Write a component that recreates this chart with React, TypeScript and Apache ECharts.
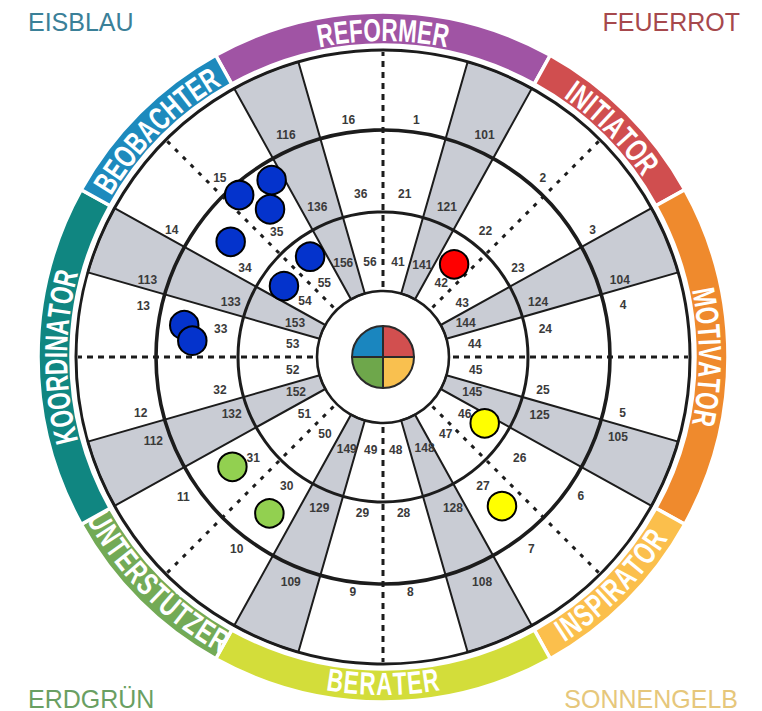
import React, { useEffect, useRef } from 'react';
import * as echarts from 'echarts';

// ---------------- data ----------------
const bandNames = ['REFORMER', 'INITIATOR', 'MOTIVATOR', 'INSPIRATOR', 'BERATER', 'UNTERSTÜTZER', 'KOORDINATOR', 'BEOBACHTER'];
const bandCenters = [0, 45, 90, 135, 180, 225, 270, 315];
const bandOutward = [true, true, true, false, false, false, true, true];
const bandColors = ['#a054a4', '#d04e4f', '#ef8a2d', '#fbbf4c', '#d3dd3a', '#73aa56', '#108681', '#1d8abd'];

const grayCenters = [22.5, 67.5, 112.5, 157.5, 202.5, 247.5, 292.5, 337.5];
const dashAngles = [0, 45, 90, 135, 180, 225, 270, 315];
const ringRadii = [66, 145, 227, 307];
const ringWidths = [2.6, 3, 3.6, 3];

const quadrantNames = ['Rot', 'Gelb', 'Grün', 'Blau'];
const quadrantColors = ['#d24f4f', '#f9c04f', '#6ea74b', '#1a86bf'];

const cornerNames = ['EISBLAU', 'FEUERROT', 'ERDGRÜN', 'SONNENGELB'];
const cornerColors = ['#3a8098', '#a6484c', '#6a9f62', '#e6c77b'];

const labelTexts = [
  '1', '101', '2', '3', '104', '4', '5', '105', '6', '7', '108', '8', '9', '109', '10', '11', '112', '12', '13', '113', '14', '15', '116', '16',
  '21', '121', '22', '23', '124', '24', '25', '125', '26', '27', '128', '28', '29', '129', '30', '31', '132', '32', '33', '133', '34', '35', '136', '36',
  '41', '141', '42', '43', '144', '44', '45', '145', '46', '47', '148', '48', '49', '149', '50', '51', '152', '52', '53', '153', '54', '55', '156', '56',
];

// dots: [radius, angle]
const blueDots = [[209, 327.8], [216.6, 318.4], [186, 322.6], [191, 307.1], [124, 324], [121.8, 305.6], [201.3, 279.1], [191.4, 274.9]];
const redDots = [[116.8, 37.5]];
const yellowDots = [[121.4, 123.1], [190.7, 141.4]];
const greenDots = [[186.4, 233.9], [193.3, 216]];

// ---------------- layout ----------------
const LABEL_RADIUS = [
  239, 244, 240, 245, 249, 245.6, 246, 248, 242, 242.6, 245.6, 237, 237.3, 243, 241.4, 243.7, 244.6, 248.8, 245, 248, 246.5, 242, 242.3, 239.5,
  164, 163, 162, 161.5, 164.6, 164.7, 163.4, 167, 169.8, 163, 166.7, 157.7, 157.7, 164.2, 160.7, 164.2, 161.8, 166.3, 164.6, 162, 164, 164.3, 164, 164.5,
  96.5, 100, 94.4, 96.1, 89.5, 92.6, 93.6, 96, 99.8, 99.3, 100.4, 93.9, 93.8, 98.9, 96.4, 97.3, 93.9, 91.2, 91.2, 94.2, 96, 94.2, 101.7, 96.2,
];
const LABEL_ANGLE = [
  8, 24.6, 41.8, 58.8, 72, 77.8, 103.2, 108.7, 125.2, 142.3, 156.2, 173.4, 187.3, 202.3, 217.3, 235, 249.9, 256.9, 282, 288.2, 301, 317.6, 336.4, 351.7,
  7.6, 23.1, 39.2, 56.7, 70.4, 80.3, 101.7, 110.3, 126.4, 142.2, 155.2, 172.5, 187.5, 202.8, 216.8, 232.2, 249.3, 258.6, 279.7, 290, 302.7, 319.7, 336.4, 352.2,
  8.9, 23.1, 38.1, 55.6, 67.5, 81.9, 98, 111.6, 125, 140.8, 155.5, 172.2, 187.5, 201.5, 217, 233.9, 247.9, 261.8, 278.2, 291, 305.7, 321.5, 337, 352.2,
];

const CX = 383;
const CY = 357;
const R_MAX = 346;
const BAND_IN = 312;
const BAND_OUT = 345;
const BAND_TEXT_R = 327;
const GRAY_W = 13;
const GRAY_FILL = '#c9ccd4';
const LINE = '#1c1c1c';
const BAND_FONT_SIZE = 32;
const BAND_SCALE_X = 0.7;
const BAND_FONT = '"Liberation Sans", Arial, sans-serif';

let measureCtx: CanvasRenderingContext2D | null = null;
function measure(ch: string): number {
  if (!measureCtx) {
    const cv = document.createElement('canvas');
    measureCtx = cv.getContext('2d');
  }
  if (!measureCtx) return BAND_FONT_SIZE * 0.65;
  measureCtx.font = `bold ${BAND_FONT_SIZE}px ${BAND_FONT}`;
  return measureCtx.measureText(ch).width;
}

function norm(a: number) {
  return ((a % 360) + 360) % 360;
}

function geom(api: any) {
  const c = api.coord([0, 0]);
  const rad = (r: number) => {
    const p = api.coord([r, 0]);
    return Math.hypot(p[0] - c[0], p[1] - c[1]);
  };
  const ang = (a: number) => {
    const p = api.coord([100, norm(a)]);
    return Math.atan2(p[1] - c[1], p[0] - c[0]);
  };
  const pt = (r: number, a: number) => api.coord([r, norm(a)]);
  return { c, rad, ang, pt };
}

function sector(g: any, r0: number, r1: number, a0: number, a1: number, style: any) {
  const s = g.ang(a0);
  let e = g.ang(a1);
  while (e <= s) e += Math.PI * 2;
  return {
    type: 'sector',
    shape: { cx: g.c[0], cy: g.c[1], r0: g.rad(r0), r: g.rad(r1), startAngle: s, endAngle: e, clockwise: true },
    style,
  };
}

function dotSeries(name: string, data: number[][], color: string) {
  return {
    name,
    type: 'scatter',
    coordinateSystem: 'polar',
    data,
    symbol: 'circle',
    symbolSize: 28.5,
    z: 10,
    silent: true,
    itemStyle: { color, borderColor: '#000', borderWidth: 2, opacity: 1 },
  };
}

export default function App() {
  const ref = useRef<HTMLDivElement>(null);

  useEffect(() => {
    if (!ref.current) return;
    const chart = echarts.init(ref.current, undefined, { renderer: 'svg' });

    const option: any = {
      animation: false,
      backgroundColor: '#ffffff',
      polar: { center: [CX, CY], radius: R_MAX },
      angleAxis: {
        type: 'value', min: 0, max: 360, startAngle: 90, clockwise: true,
        show: false, axisLine: { show: false }, axisTick: { show: false }, axisLabel: { show: false }, splitLine: { show: false },
      },
      radiusAxis: {
        type: 'value', min: 0, max: R_MAX,
        show: false, axisLine: { show: false }, axisTick: { show: false }, axisLabel: { show: false }, splitLine: { show: false },
      },
      graphic: [
        { type: 'text', left: 28, top: 9, style: { text: cornerNames[0], fill: cornerColors[0], fontSize: 25, fontFamily: BAND_FONT } },
        { type: 'text', right: 22, top: 9, style: { text: cornerNames[1], fill: cornerColors[1], fontSize: 25, fontFamily: BAND_FONT } },
        { type: 'text', left: 28, top: 686, style: { text: cornerNames[2], fill: cornerColors[2], fontSize: 25, fontFamily: BAND_FONT } },
        { type: 'text', right: 24, top: 686, style: { text: cornerNames[3], fill: cornerColors[3], fontSize: 25, fontFamily: BAND_FONT } },
      ],
      series: [
        // outer coloured band with names
        {
          type: 'custom', coordinateSystem: 'polar', silent: true, z: 1,
          data: bandNames.map((n, i) => ({ name: n, value: [BAND_TEXT_R, bandCenters[i]] })),
          renderItem: (params: any, api: any) => {
            const i = params.dataIndex;
            const g = geom(api);
            const w = i % 2 === 0 ? 45 + GRAY_W : 45 - GRAY_W;
            const children: any[] = [
              sector(g, BAND_IN, BAND_OUT, bandCenters[i] - w / 2, bandCenters[i] + w / 2, { fill: bandColors[i], stroke: '#ffffff', lineWidth: 3.5 }),
            ];
            const chars = Array.from(bandNames[i]);
            const widths = chars.map((ch) => measure(ch) * BAND_SCALE_X + 0.6);
            const total = widths.reduce((a, b) => a + b, 0);
            const rPx = g.rad(BAND_TEXT_R);
            const outward = bandOutward[i];
            let cum = 0;
            chars.forEach((ch, k) => {
              const off = ((cum + widths[k] / 2 - total / 2) / rPx) * (180 / Math.PI);
              cum += widths[k];
              const a = bandCenters[i] + (outward ? off : -off);
              const p = g.pt(BAND_TEXT_R, a);
              const phi = Math.atan2(p[1] - g.c[1], p[0] - g.c[0]);
              const rot = outward ? -(phi + Math.PI / 2) : -(phi + 1.5 * Math.PI);
              children.push({
                type: 'text', x: p[0], y: p[1], rotation: rot, scaleX: BAND_SCALE_X,
                style: { text: ch, fill: '#ffffff', fontSize: BAND_FONT_SIZE, fontWeight: 'bold', fontFamily: BAND_FONT, align: 'center', verticalAlign: 'middle' },
              });
            });
            return { type: 'group', children };
          },
        },
        // grey wedges
        {
          type: 'custom', coordinateSystem: 'polar', silent: true, z: 2,
          data: grayCenters.map((a) => [ringRadii[3], a]),
          renderItem: (params: any, api: any) => {
            const g = geom(api);
            const a = grayCenters[params.dataIndex];
            return sector(g, ringRadii[0], ringRadii[3], a - GRAY_W / 2, a + GRAY_W / 2, { fill: GRAY_FILL, stroke: LINE, lineWidth: 2 });
          },
        },
        // dashed centre lines
        {
          type: 'custom', coordinateSystem: 'polar', silent: true, z: 3,
          data: dashAngles.map((a) => [ringRadii[3], a]),
          renderItem: (params: any, api: any) => {
            const g = geom(api);
            const a = dashAngles[params.dataIndex];
            const p0 = g.pt(ringRadii[0] + 4, a);
            const p1 = g.pt(ringRadii[3] - 2, a);
            const ortho = a % 90 === 0;
            return {
              type: 'line',
              shape: { x1: p0[0], y1: p0[1], x2: p1[0], y2: p1[1] },
              style: { stroke: LINE, lineWidth: 3, lineDash: ortho ? [6, 5] : [4, 7] },
            };
          },
        },
        // rings
        {
          type: 'custom', coordinateSystem: 'polar', silent: true, z: 4,
          data: ringRadii.map((r) => [r, 0]),
          renderItem: (params: any, api: any) => {
            const g = geom(api);
            const i = params.dataIndex;
            return {
              type: 'circle',
              shape: { cx: g.c[0], cy: g.c[1], r: g.rad(ringRadii[i]) },
              style: { fill: 'none', stroke: LINE, lineWidth: ringWidths[i] },
            };
          },
        },
        // number labels
        {
          type: 'custom', coordinateSystem: 'polar', silent: true, z: 5,
          data: labelTexts.map((t, i) => ({ name: t, value: [LABEL_RADIUS[i], LABEL_ANGLE[i]] })),
          renderItem: (params: any, api: any) => {
            const i = params.dataIndex;
            const p = api.coord([api.value(0), api.value(1)]);
            return {
              type: 'text', x: p[0], y: p[1],
              style: { text: labelTexts[i], fill: '#3a3a3a', fontSize: 12, fontWeight: 'bold', fontFamily: BAND_FONT, align: 'center', verticalAlign: 'middle' },
            };
          },
        },
        // centre quadrants
        {
          type: 'pie', center: [CX, CY], radius: 31, startAngle: 90, clockwise: true, silent: true, z: 6,
          label: { show: false }, labelLine: { show: false }, emphasis: { disabled: true },
          itemStyle: { borderColor: '#2a2a2a', borderWidth: 2 },
          data: quadrantNames.map((n, i) => ({ name: n, value: 1, itemStyle: { color: quadrantColors[i] } })),
        },
        dotSeries('Blau', blueDots, '#0433cc'),
        dotSeries('Rot', redDots, '#ff0000'),
        dotSeries('Gelb', yellowDots, '#ffff00'),
        dotSeries('Grün', greenDots, '#92d050'),
      ],
    };

    chart.setOption(option);
    return () => chart.dispose();
  }, []);

  return <div ref={ref} style={{ position: 'fixed', left: 0, top: 0, width: 762, height: 711 }} />;
}
